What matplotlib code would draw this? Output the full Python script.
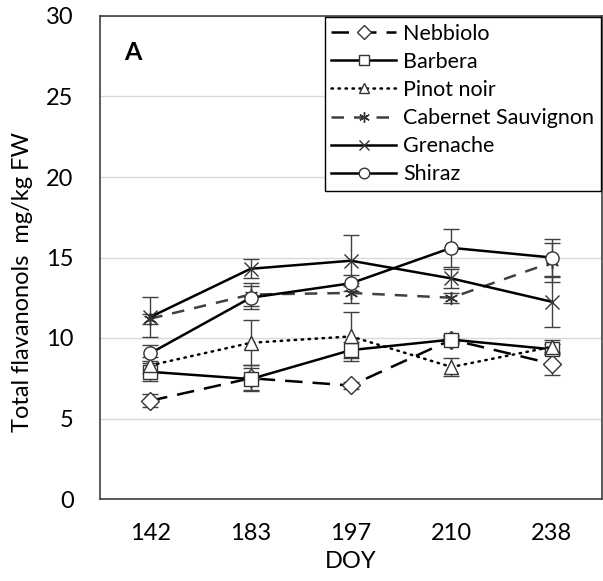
import numpy as np
import matplotlib
matplotlib.use('Agg')
import matplotlib.pyplot as plt

plt.rcParams['font.family'] = ['Lato', 'DejaVu Sans']

doy = ['142', '183', '197', '210', '238']

nebbiolo = [6.1, 7.5, 7.05, 9.9, 8.4]
nebbiolo_err = [0.4, 0.8, 0.2, 0.2, 0.7]
barbera = [7.9, 7.45, 9.25, 9.9, 9.3]
barbera_err = [0.55, 0.7, 0.5, 0.3, 0.3]
pinot = [8.3, 9.7, 10.1, 8.2, 9.45]
pinot_err = [0.5, 1.4, 1.5, 0.55, 0.45]
cabernet = [11.2, 12.7, 12.8, 12.5, 14.7]
cabernet_err = [0.3, 0.7, 0.6, 0.3, 1.2]
grenache = [11.3, 14.3, 14.8, 13.7, 12.25]
grenache_err = [1.25, 0.6, 1.6, 0.6, 1.55]
shiraz = [9.05, 12.5, 13.4, 15.6, 15.0]
shiraz_err = [0.5, 0.7, 0.5, 1.2, 1.15]

x = np.arange(len(doy))

fig = plt.figure(figsize=(6.03, 5.81), dpi=100)
ax = fig.add_axes([100/603, 82/581, 502/603, 483/581])

series = [
    ('Nebbiolo', nebbiolo, nebbiolo_err, 'D', (0, (7, 4)), 'black'),
    ('Barbera', barbera, barbera_err, 's', '-', 'black'),
    ('Pinot noir', pinot, pinot_err, '^', (0, (0.6, 2.2)), 'black'),
    ('Cabernet Sauvignon', cabernet, cabernet_err, (6, 2, 0), (0, (5, 4)), '#404040'),
    ('Grenache', grenache, grenache_err, 'x', '-', 'black'),
    ('Shiraz', shiraz, shiraz_err, 'o', '-', 'black'),
]

for name, vals, err, mk, ls, col in series:
    ax.errorbar(x, vals, yerr=err, fmt='none', ecolor='#404040', elinewidth=1.0,
                capsize=6, capthick=1.0, zorder=2)
    dash_cap = 'round' if name == 'Pinot noir' else 'butt'
    ax.plot(x, vals, linestyle=ls, color=col, linewidth=1.8,
            dash_capstyle=dash_cap, marker=mk, markersize=9.5,
            markerfacecolor='white', markeredgecolor='#333333',
            markeredgewidth=1.0, label=name, zorder=3)

ax.set_xlim(-0.5, 4.5)
ax.set_ylim(0, 30)
ax.set_yticks(np.arange(0, 31, 5))
ax.set_xticks(x)
ax.set_xticklabels(doy)
ax.yaxis.grid(True, color='#d9d9d9', linewidth=1.0)
ax.set_axisbelow(True)
ax.tick_params(axis='both', length=0, labelsize=17, colors='#000000')
ax.tick_params(axis='y', pad=19)
ax.tick_params(axis='x', pad=17)
for s in ax.spines.values():
    s.set_color('#404040')
    s.set_linewidth(1.2)

ax.set_xlabel('DOY', fontsize=17, labelpad=5)
ax.set_ylabel('Total flavanonols  mg/kg FW', fontsize=17)
ax.yaxis.set_label_coords(-0.134, 0.449)

ax.text(0.066, 0.925, 'A', transform=ax.transAxes, fontsize=18,
        fontweight='bold', ha='center', va='center')

leg = ax.legend(loc='upper right', bbox_to_anchor=(1.0, 1.0), borderaxespad=0.05,
                fontsize=15.5, handlelength=3.0, handletextpad=0.35,
                labelspacing=0.38, borderpad=0.3, fancybox=False, framealpha=1,
                markerscale=0.8)
leg.get_frame().set_edgecolor('black')
leg.get_frame().set_linewidth(1.0)

fig.savefig('out.png', dpi=100)
